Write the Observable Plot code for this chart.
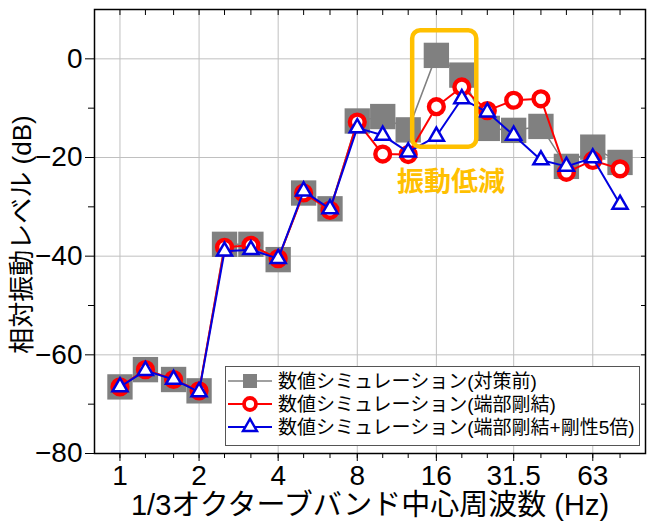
<!DOCTYPE html>
<html><head><meta charset="utf-8">
<script src="https://cdn.jsdelivr.net/npm/d3@7"></script>
<script src="https://cdn.jsdelivr.net/npm/@observablehq/plot@0.6"></script>
<style>
html,body{margin:0;padding:0;background:#fff;}
#wrap{position:relative;width:652px;height:528px;overflow:hidden;}
#legend{position:absolute;left:225px;top:366px;}
</style>
</head><body>
<div id="wrap"></div>
<script>
// 1/3 octave band centre frequencies (Hz)
const bands = [1,1.25,1.6,2,2.5,3.15,4,5,6.3,8,10,12.5,16,20,25,31.5,40,50,63,80];
// 数値シミュレーション(対策前)
const beforeVals = [-66.5,-63.0,-65.0,-67.3,-37.6,-37.6,-40.7,-27.2,-30.4,-12.6,-11.7,-14.4,0.7,-3.3,-14.1,-14.5,-13.7,-21.8,-17.9,-21.0];
// 数値シミュレーション(端部剛結)
const fixedVals = [-66.5,-63.0,-65.0,-67.3,-38.2,-37.8,-40.5,-27.2,-30.7,-12.8,-19.3,-19.4,-9.7,-5.7,-10.5,-8.4,-8.1,-23.0,-20.6,-22.3];
// 数値シミュレーション(端部剛結+剛性5倍)
const stiffVals = [-66.5,-63.2,-65.0,-67.5,-39.0,-38.7,-40.5,-26.8,-30.4,-14.0,-15.5,-18.9,-15.7,-8.1,-10.8,-15.5,-20.5,-21.8,-20.1,-29.5];
const seriesNames = ["数値シミュレーション(対策前)","数値シミュレーション(端部剛結)","数値シミュレーション(端部剛結+剛性5倍)"];
const majorTicks = [1,2,4,8,16,31.5,63];
const tickLabels = ["1","2","4","8","16","31.5","63"];
const yTicks = [-80,-60,-40,-20,0];
const yTickLabels = ["−80","−60","−40","−20","0"];
const yMinor = [-70,-50,-30,-10];
const yGrid = [-60,-40,-20,0];
const xTitle = "1/3オクターブバンド中心周波数 (Hz)";
const yTitle = "相対振動レベル (dB)";
const noteText = "振動低減";
// annotation box (data coordinates)
const noteBox = {x1: 13.0, x2: 22.8, y1: -17.9, y2: 5.7};
const notePos = {x: 18.2, y: -25.1};

const data = bands.map((f,i)=>({f, before: beforeVals[i], fixed: fixedVals[i], stiff: stiffVals[i]}));
const FONT = "'Liberation Sans Narrow','Liberation Sans','Noto Sans CJK JP',sans-serif";
const GRAY="#808080", RED="#ff0000", BLUE="#0000e0", GOLD="#FFC000";
const blank = () => "";

const chart = Plot.plot({
  width: 652, height: 528,
  marginLeft: 94, marginRight: 7, marginTop: 9, marginBottom: 75,
  style: {fontFamily: FONT, background: "white", color: "black"},
  x: {type: "log", domain: [0.8, 100], label: null},
  y: {domain: [-80, 10], label: null},
  marks: [
    Plot.ruleX(majorTicks, {x: d => d, stroke: "#c0c0c0", strokeWidth: 1}),
    Plot.ruleY(yGrid, {y: d => d, stroke: "#c0c0c0", strokeWidth: 1}),
    Plot.line(data, {x: "f", y: "before", stroke: GRAY, strokeWidth: 1.5}),
    Plot.dot(data, {x: "f", y: "before", symbol: "square", r: 14.3, fill: GRAY, stroke: "none"}),
    Plot.line(data, {x: "f", y: "fixed", stroke: RED, strokeWidth: 2}),
    Plot.dot(data, {x: "f", y: "fixed", r: 7.4, stroke: RED, strokeWidth: 4.4, fill: "white"}),
    Plot.line(data, {x: "f", y: "stiff", stroke: BLUE, strokeWidth: 2}),
    Plot.dot(data, {x: "f", y: "stiff", symbol: "triangle", r: 5.6, stroke: BLUE, strokeWidth: 2.5, fill: "white"}),
    Plot.rect([noteBox], {x1: "x1", x2: "x2", y1: "y1", y2: "y2", rx: 8, stroke: GOLD, strokeWidth: 4.5, fill: "none"}),
    Plot.text([noteText], {x: () => notePos.x, y: () => notePos.y, text: d => d, fill: GOLD, fontWeight: "bold", fontSize: 27, fontFamily: "'Noto Sans CJK JP'"}),
    Plot.frame({stroke: "black", strokeWidth: 1.5}),
    // left axis ticks
    Plot.axisY({ticks: yTicks, tickSize: 9, tickFormat: blank, label: null}),
    Plot.axisY({ticks: yMinor, tickSize: 6, tickFormat: blank, label: null}),
    Plot.text(yTicks, {y: d => d, frameAnchor: "left", dx: -12, textAnchor: "end", lineAnchor: "middle",
      text: (d, i) => yTickLabels[i], fontSize: 28}),
    // right inward ticks
    Plot.axisY({anchor: "right", ticks: yTicks.concat(yMinor), tickSize: 5, dx: -5, tickFormat: blank, label: null}),
    // bottom axis
    Plot.axisX({ticks: majorTicks, tickSize: 8, tickFormat: blank, label: null}),
    Plot.axisX({ticks: bands, tickSize: 5, tickFormat: blank, label: null}),
    Plot.text(majorTicks, {x: d => d, frameAnchor: "bottom", dy: 23, textAnchor: "middle", lineAnchor: "middle",
      text: (d, i) => tickLabels[i], fontSize: 28}),
    // top inward ticks
    Plot.axisX({anchor: "top", ticks: bands, tickSize: 5, dy: 5, tickFormat: blank, label: null}),
    // titles
    Plot.text([xTitle], {frameAnchor: "bottom", dy: 52, text: d => d, fontSize: 29, textAnchor: "middle", lineAnchor: "middle"}),
    Plot.text([yTitle], {frameAnchor: "left", dx: -72, dy: 3, rotate: -90, text: d => d, fontSize: 26, textAnchor: "middle", lineAnchor: "middle"})
  ]
});
const wrap = document.getElementById("wrap");
wrap.appendChild(chart);

// legend
const lg = d3.create("svg").attr("id","legend").attr("width",415).attr("height",81);
lg.append("rect").attr("x",0.5).attr("y",0.5).attr("width",414).attr("height",79)
  .attr("fill","white").attr("stroke","#555").attr("stroke-width",1);
const rowsY = [15, 38, 61];
const colors = [GRAY, RED, BLUE];
seriesNames.forEach((name, i) => {
  const y = rowsY[i];
  lg.append("line").attr("x1",3).attr("x2",47).attr("y1",y).attr("y2",y)
    .attr("stroke",colors[i]).attr("stroke-width", i===0?1.5:2);
  if (i===0) lg.append("rect").attr("x",25-7).attr("y",y-7).attr("width",14).attr("height",14).attr("fill",GRAY);
  if (i===1) lg.append("circle").attr("cx",25).attr("cy",y).attr("r",6).attr("fill","white").attr("stroke",RED).attr("stroke-width",3.8);
  if (i===2) lg.append("path").attr("transform",`translate(25,${y})`)
    .attr("d", d3.symbol(d3.symbolTriangle, Math.PI*5.2*5.2)()).attr("fill","white").attr("stroke",BLUE).attr("stroke-width",2.4);
  lg.append("text").attr("x",53).attr("y",y).attr("dominant-baseline","central")
    .attr("font-family","'Liberation Sans','Noto Sans CJK JP',sans-serif").attr("font-size",19).attr("fill","black").text(name);
});
wrap.appendChild(lg.node());
</script>
</body></html>
